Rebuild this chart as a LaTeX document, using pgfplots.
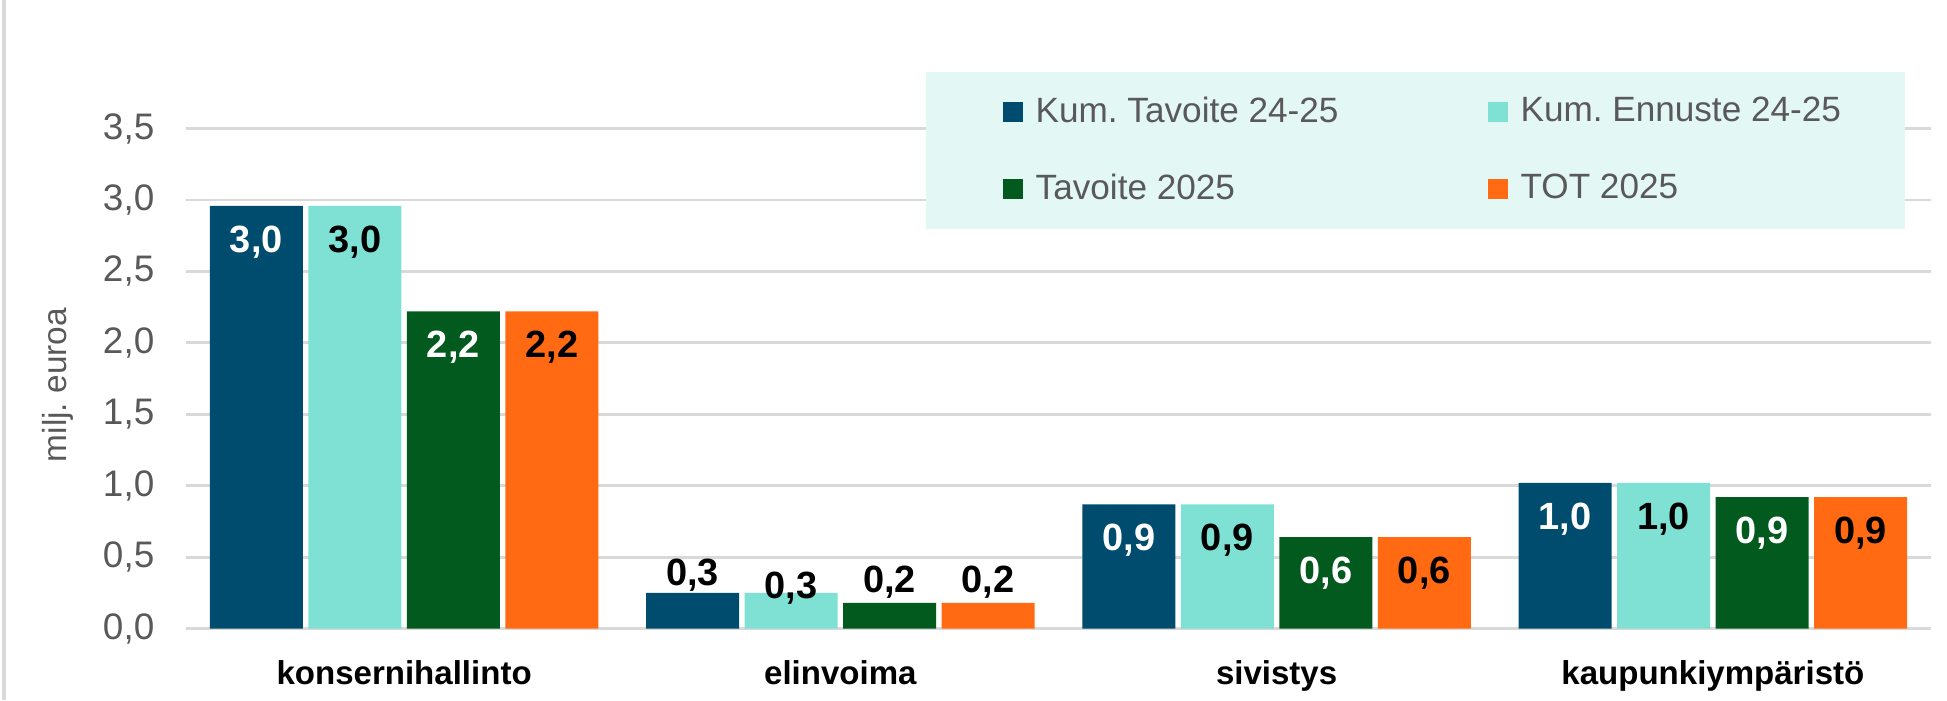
\documentclass[border=0pt]{standalone}
\usepackage{fontspec}
\setmainfont{Liberation Sans}
\usepackage{pgfplots}
\usepackage{pgfplotstable}
\pgfplotsset{compat=1.18}
\frenchspacing

\definecolor{kumtav}{RGB}{0,76,110}
\definecolor{kumenn}{RGB}{127,224,212}
\definecolor{tav}{RGB}{3,90,30}
\definecolor{tot}{RGB}{255,106,19}
\definecolor{legbg}{RGB}{227,247,245}
\definecolor{gridc}{RGB}{217,217,217}
\definecolor{tickc}{RGB}{89,89,89}

% x y label label-shift(mm) white-share of label colour
\pgfplotstableread{
x y lab dy w
0 2.96 3,0 -3.6 100
1 0.25 0,3 1.8 0
2 0.87 0,9 -3.6 100
3 1.02 1,0 -3.6 100
}\kumtavoite
\pgfplotstableread{
x y lab dy w
0 2.96 3,0 -3.6 0
1 0.25 0,3 0.5 0
2 0.87 0,9 -3.6 0
3 1.02 1,0 -3.6 0
}\kumennuste
\pgfplotstableread{
x y lab dy w
0 2.22 2,2 -3.6 100
1 0.18 0,2 2.1 0
2 0.64 0,6 -3.6 100
3 0.92 0,9 -3.6 100
}\tavoite
\pgfplotstableread{
x y lab dy w
0 2.22 2,2 -3.6 0
1 0.18 0,2 2.1 0
2 0.64 0,6 -3.6 0
3 0.92 0,9 -3.6 0
}\tot

\begin{document}
\begin{tikzpicture}
\path[use as bounding box] (0,0) rectangle (19.47cm,7cm);
\draw[gridc, line width=0.9pt] (0.04cm,0) -- (0.04cm,7cm);
\begin{axis}[
    at={(1.86cm,0.714cm)}, anchor=south west,
    scale only axis, width=17.45cm, height=5cm,
    ybar=0.55mm, bar width=9.3mm,
    xmin=-0.5, xmax=3.5, ymin=0, ymax=3.5,
    xtick={0,1,2,3},
    xticklabels={konsernihallinto,elinvoima,sivistys,kaupunkiympäristö},
    ytick={0,0.5,1,1.5,2,2.5,3,3.5},
    axis line style={draw=none},
    major tick length=0pt,
    ymajorgrids, grid style={gridc, line width=0.8pt},
    clip=false,
    yticklabel style={anchor=east, inner sep=0pt, xshift=-3.1mm, text=tickc,
        font=\fontsize{10.5}{12}\selectfont,
        /pgf/number format/.cd, fixed, fixed zerofill, precision=1, use comma, assume math mode=true},
    xticklabel style={anchor=base, inner sep=0pt, yshift=-5.6mm,
        font=\fontsize{9.4}{11}\selectfont\bfseries},
    ylabel={milj. euroa},
    ylabel style={at={(axis description cs:-0.0734,0.487)}, anchor=center, rotate=0,
        text=tickc, font=\fontsize{9.5}{11}\selectfont},
    point meta=explicit symbolic,
    nodes near coords,
    visualization depends on={\thisrow{dy} \as \dy},
    visualization depends on={\thisrow{w} \as \lw},
    every node near coord/.append style={anchor=center, yshift=\dy mm, text=white!\lw!black,
        font=\fontsize{10.8}{12}\selectfont\bfseries},
    legend columns=2,
    legend cell align=left,
    legend image code/.code={\path (-2mm,0mm); \fill[#1] (0mm,-1mm) rectangle (2mm,1mm);},
    legend style={at={(rel axis cs:0.4235,1.115)}, anchor=north west,
        draw=none, fill=legbg, inner xsep=5.7mm, inner ysep=1.8mm,
        font=\fontsize{10}{11}\selectfont, text=tickc, row sep=3.2mm,
        /tikz/every odd column/.append style={column sep=0.6mm},
        /tikz/every even column/.append style={column sep=12.2mm}},
]
\addplot[fill=kumtav, draw=none] table[x=x, y=y, meta=lab] {\kumtavoite};
\addplot[fill=kumenn, draw=none] table[x=x, y=y, meta=lab] {\kumennuste};
\addplot[fill=tav, draw=none] table[x=x, y=y, meta=lab] {\tavoite};
\addplot[fill=tot, draw=none] table[x=x, y=y, meta=lab] {\tot};
\legend{Kum. Tavoite 24-25, Kum. Ennuste 24-25, Tavoite 2025, TOT 2025}
\end{axis}
\end{tikzpicture}
\end{document}
